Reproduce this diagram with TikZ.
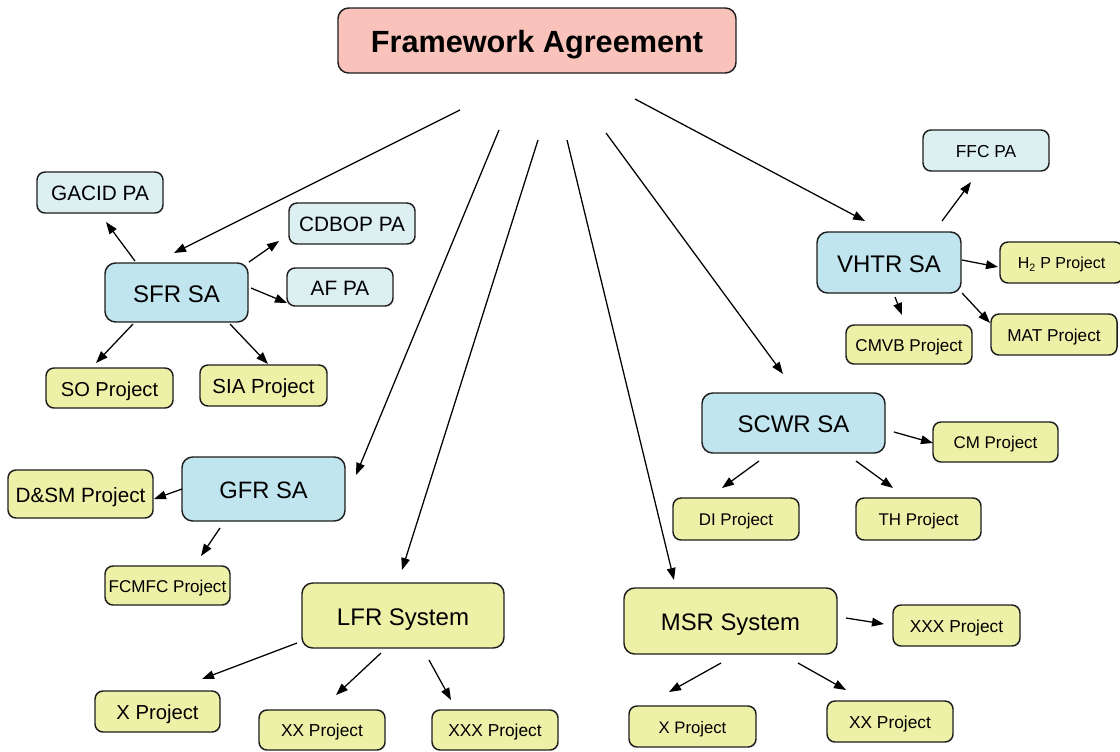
\documentclass[tikz,border=0pt]{standalone}
\usepackage{fontspec}
\setmainfont{Liberation Sans}
\usetikzlibrary{arrows.meta}
\definecolor{fwpink}{HTML}{F9C3BB}
\definecolor{palight}{HTML}{DCF0F2}
\definecolor{sacyan}{HTML}{C1E5EE}
\definecolor{pjyellow}{HTML}{EDF0A7}
\definecolor{edge}{HTML}{1E1E1E}
\tikzset{
  box/.style={draw=edge, line width=1.1pt, rounded corners=6pt, inner sep=0pt, text=black, align=center},
  fwbox/.style={box, fill=fwpink, rounded corners=8pt},
  pabox/.style={box, fill=palight},
  sabox/.style={box, fill=sacyan, rounded corners=8pt},
  pjbox/.style={box, fill=pjyellow},
  wh/.style 2 args={minimum width={#1*0.75pt}, minimum height={#2*0.75pt}},
  fs/.style={font=\fontsize{#1pt}{#1pt}\selectfont, text height={#1*0.8pt}, text depth=0pt},
  arr/.style={-{Triangle[length=9pt,width=6.5pt]}, line width=0.95pt, draw=black},
}
\begin{document}
\begin{tikzpicture}[x=0.75pt, y=-0.75pt]
\useasboundingbox (0,0) rectangle (1120,751);
\fill[white] (0,0) rectangle (1120,751);
% top
\node[fwbox, wh={398}{65}, font=\bfseries\fontsize{23pt}{23pt}\selectfont, text height=18.4pt, text depth=0pt] (fa) at (537,40.5) {Framework Agreement};
% SFR group
\node[sabox, wh={143}{59}, fs=18] (sfr) at (176.5,292.5) {SFR SA};
\node[pabox, wh={126}{41}, fs=15.6] (gacid) at (100,192.5) {GACID PA};
\node[pabox, wh={126}{41}, fs=15.6] (cdbop) at (352,223.5) {CDBOP PA};
\node[pabox, wh={106}{38}, fs=15.6] (af) at (340,287) {AF PA};
\node[pjbox, wh={127}{40}, fs=15.1] (so) at (109.5,388) {SO Project};
\node[pjbox, wh={127}{41}, fs=15.3] (sia) at (263.5,385.5) {SIA Project};
% VHTR group
\node[sabox, wh={144}{61}, fs=18] (vhtr) at (889,262.5) {VHTR SA};
\node[pabox, wh={126}{41}, fs=13] (ffc) at (986,150.5) {FFC PA};
\node[pjbox, wh={123}{41}, fs=12] (h2p) at (1061.5,262.5) {H\textsubscript{2} P Project};
\node[pjbox, wh={126}{39}, fs=12.8] (cmvb) at (909,344.5) {CMVB Project};
\node[pjbox, wh={126}{41}, fs=12.9] (mat) at (1054,334.5) {MAT Project};
% SCWR group
\node[sabox, wh={183}{60}, fs=18] (scwr) at (793.5,423) {SCWR SA};
\node[pjbox, wh={125}{40}, fs=12.7] (cm) at (995.5,442) {CM Project};
\node[pjbox, wh={126}{42}, fs=12.7] (di) at (736,519) {DI Project};
\node[pjbox, wh={125}{42}, fs=12.7] (th) at (918.5,519) {TH Project};
% GFR group
\node[sabox, wh={163}{64}, fs=17.8] (gfr) at (263.5,489) {GFR SA};
\node[pjbox, wh={145}{48}, fs=15.5] (dsm) at (80.5,494) {D\&SM Project};
\node[pjbox, wh={125}{39}, fs=12.8] (fcmfc) at (167.5,585.5) {FCMFC Project};
% LFR group
\node[pjbox, wh={202}{65}, fs=18, rounded corners=8pt] (lfr) at (403,615.5) {LFR System};
\node[pjbox, wh={125}{41}, fs=15.2] (xl) at (157.5,711.5) {X Project};
\node[pjbox, wh={126}{40}, fs=13] (xxl) at (322,730) {XX Project};
\node[pjbox, wh={126}{40}, fs=13] (xxxl) at (495,730) {XXX Project};
% MSR group
\node[pjbox, wh={213}{66}, fs=17.9, rounded corners=8pt] (msr) at (730.5,621) {MSR System};
\node[pjbox, wh={127}{41}, fs=13] (xxxr) at (956.5,625.5) {XXX Project};
\node[pjbox, wh={127}{41}, fs=12.5] (xr) at (692.5,726.5) {X Project};
\node[pjbox, wh={126}{41}, fs=13] (xxr) at (890,721.5) {XX Project};
% arrows from Framework Agreement
\draw[arr] ([shift={(-77,69.5)}]fa.center) -- ([shift={(-2.5,-39.5)}]sfr.center);
\draw[arr] ([shift={(-38,89.5)}]fa.center) -- ([shift={(92.5,-14)}]gfr.center);
\draw[arr] ([shift={(1,99.5)}]fa.center) -- ([shift={(-1,-45.5)}]lfr.center);
\draw[arr] ([shift={(30,99.5)}]fa.center) -- ([shift={(-56.5,-41)}]msr.center);
\draw[arr] ([shift={(69,92.5)}]fa.center) -- ([shift={(-10.5,-49)}]scwr.center);
\draw[arr] ([shift={(98,58.5)}]fa.center) -- ([shift={(-24,-41.5)}]vhtr.center);
% SFR
\draw[arr] ([shift={(-41.5,-31.5)}]sfr.center) -- ([shift={(6,29.5)}]gacid.center);
\draw[arr] ([shift={(72.5,-30.5)}]sfr.center) -- ([shift={(-73,17.5)}]cdbop.center);
\draw[arr] ([shift={(74.5,-4.5)}]sfr.center) -- ([shift={(-53,16)}]af.center);
\draw[arr] ([shift={(-43.5,31.5)}]sfr.center) -- ([shift={(-13.5,-25)}]so.center);
\draw[arr] ([shift={(53.5,31.5)}]sfr.center) -- ([shift={(4.5,-21.5)}]sia.center);
% VHTR
\draw[arr] ([shift={(53,-41.5)}]vhtr.center) -- ([shift={(-15,31.5)}]ffc.center);
\draw[arr] ([shift={(73,-2.5)}]vhtr.center) -- ([shift={(-63.5,4.5)}]h2p.center);
\draw[arr] ([shift={(6,34.5)}]vhtr.center) -- ([shift={(-7,-29.5)}]cmvb.center);
\draw[arr] ([shift={(73,30.5)}]vhtr.center) -- ([shift={(-64,-11.5)}]mat.center);
% SCWR
\draw[arr] ([shift={(100.5,9)}]scwr.center) -- ([shift={(-62.5,1)}]cm.center);
\draw[arr] ([shift={(-34.5,38)}]scwr.center) -- ([shift={(-14,-31)}]di.center);
\draw[arr] ([shift={(62.5,38)}]scwr.center) -- ([shift={(-25.5,-31)}]th.center);
% GFR
\draw[arr] ([shift={(-81.5,0)}]gfr.center) -- ([shift={(73.5,5)}]dsm.center);
\draw[arr] ([shift={(-43.5,39)}]gfr.center) -- ([shift={(33.5,-29.5)}]fcmfc.center);
% LFR
\draw[arr] ([shift={(-106,27.5)}]lfr.center) -- ([shift={(44.5,-32.5)}]xl.center);
\draw[arr] ([shift={(-22,37.5)}]lfr.center) -- ([shift={(14,-35)}]xxl.center);
\draw[arr] ([shift={(26,44.5)}]lfr.center) -- ([shift={(-44,-30)}]xxxl.center);
% MSR
\draw[arr] ([shift={(115.5,-3)}]msr.center) -- ([shift={(-72.5,-1.5)}]xxxr.center);
\draw[arr] ([shift={(-9.5,42)}]msr.center) -- ([shift={(-23.5,-34.5)}]xr.center);
\draw[arr] ([shift={(67.5,42)}]msr.center) -- ([shift={(-44,-31.5)}]xxr.center);
\end{tikzpicture}
\end{document}
